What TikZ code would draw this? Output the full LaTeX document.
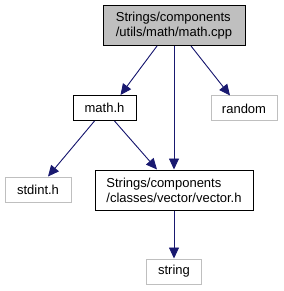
\documentclass[tikz,border=0pt]{standalone}
\usepackage{fontspec}
\setmainfont{Liberation Sans}
\usetikzlibrary{arrows.meta,calc}
\definecolor{edgeblue}{RGB}{25,25,112}
\definecolor{boxgray}{RGB}{191,191,191}
\definecolor{lightborder}{RGB}{191,191,191}
\tikzset{
  filebox/.style={draw=black, line width=1pt, inner sep=0pt, align=left,
    font=\fontsize{13}{15}\selectfont},
  extbox/.style={filebox, draw=lightborder},
  dep/.style={draw=edgeblue, line width=0.9pt,
    -{Triangle[length=11pt,width=10pt]}, fill=edgeblue}
}
\begin{document}
\begin{tikzpicture}[x=1pt,y=-1pt]
\useasboundingbox (0,0) rectangle (283,291);
\node[filebox, fill=boxgray, minimum width=142pt, minimum height=40pt] (cpp) at (174,25.5) {Strings/components\\/utils/math/math.cpp};
\node[filebox, minimum width=63pt, minimum height=25pt] (mathh) at (104.5,108) {math.h};
\node[extbox, minimum width=66pt, minimum height=25pt] (random) at (244,108.5) {random};
\node[extbox, minimum width=66pt, minimum height=25pt] (stdint) at (38,189.5) {stdint.h};
\node[filebox, minimum width=158pt, minimum height=40pt] (vector) at (174,190) {Strings/components\\/classes/vector/vector.h};
\node[extbox, minimum width=55pt, minimum height=25pt] (string) at (174,271.5) {string};
\draw[dep] ([xshift=-17pt]cpp.south) -- ([xshift=16pt]mathh.north);
\draw[dep] ([xshift=17pt]cpp.south) -- ([xshift=-14pt]random.north);
\draw[dep] (cpp.south) -- (vector.north);
\draw[dep] ([xshift=-10pt]mathh.south) -- ([xshift=10pt]stdint.north);
\draw[dep] ([xshift=10pt]mathh.south) -- ([xshift=-17pt]vector.north);
\draw[dep] (vector.south) -- (string.north);
\end{tikzpicture}
\end{document}
